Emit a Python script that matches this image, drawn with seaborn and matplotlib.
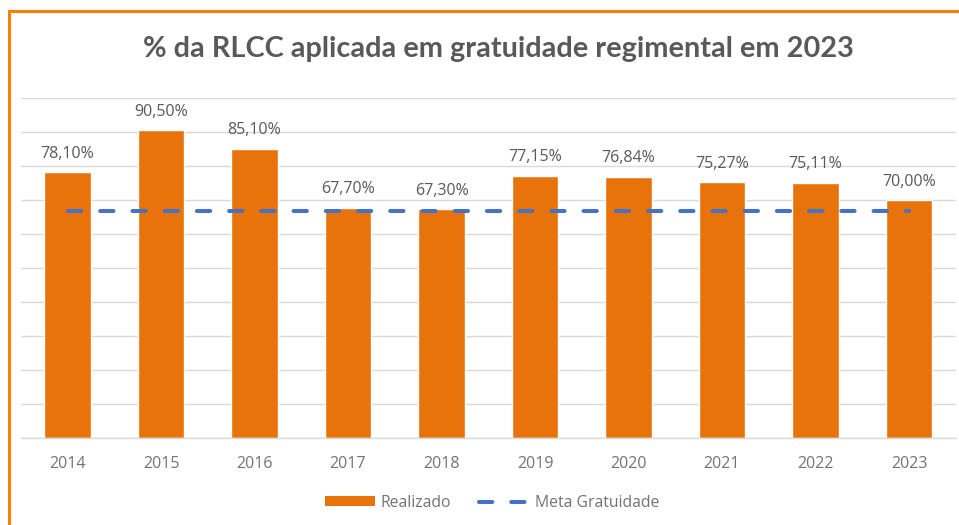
import matplotlib
matplotlib.use("Agg")
import matplotlib.pyplot as plt
import seaborn as sns
import pandas as pd
from matplotlib.patches import Rectangle, Patch
from matplotlib.lines import Line2D

years = ["2014", "2015", "2016", "2017", "2018", "2019", "2020", "2021", "2022", "2023"]
realizado = [78.10, 90.50, 85.10, 67.70, 67.30, 77.15, 76.84, 75.27, 75.11, 70.00]
meta = [66.67] * len(years)
title = "% da RLCC aplicada em gratuidade regimental em 2023"

df = pd.DataFrame({"ano": years, "realizado": realizado, "meta": meta})

sns.set_theme(style="white")
plt.rcParams["font.family"] = ["Open Sans", "DejaVu Sans"]

W, H = 959, 525
fig = plt.figure(figsize=(W / 100, H / 100), dpi=100)
ax = fig.add_axes([20.75 / W, (H - 438) / H, (955.75 - 20.75) / W, (438 - 98) / H])

bar_color = "#E8730A"
line_color = "#4472C4"
text_color = "#595959"
tick_color = "#737373"

sns.barplot(data=df, x="ano", y="realizado", color=bar_color, width=0.5,
            saturation=1, ax=ax, zorder=2)
sns.lineplot(data=df, x="ano", y="meta", color=line_color, linewidth=2.9,
             ax=ax, zorder=3)
ln = ax.lines[-1]
ln.set_linestyle((0, (3.3, 4.7)))
ln.set_dash_capstyle("round")

labels = [f"{v:.2f}".replace(".", ",") + "%" for v in realizado]
ax.bar_label(ax.containers[0], labels=labels, padding=7.5, fontsize=11.5,
             color=text_color)

ax.set_ylim(0, 100)
ax.set_xlim(-0.5, len(years) - 0.5)
ax.set_yticks(range(0, 101, 10))
ax.set_yticklabels([])
ax.tick_params(axis="y", length=0)
ax.tick_params(axis="x", length=0, labelsize=11.5, labelcolor=tick_color, pad=13)
ax.yaxis.grid(True, color="#D9D9D9", linewidth=1)
ax.set_axisbelow(True)
for s in ["top", "right", "left"]:
    ax.spines[s].set_visible(False)
ax.spines["bottom"].set_color("#D9D9D9")
ax.spines["bottom"].set_linewidth(1)
ax.set_xlabel("")
ax.set_ylabel("")

fig.text(498 / W, 1 - 49 / H, title, ha="center", va="center", fontsize=20.8,
         fontweight="bold", color=text_color, family=["Lato", "DejaVu Sans"])

handles = [Patch(facecolor=bar_color, edgecolor="none"),
           Line2D([0], [0], color=line_color, linewidth=2.9,
                  linestyle=(0, (3.3, 4.7)), dash_capstyle="round")]
fig.legend(handles, ["Realizado", "Meta Gratuidade"], loc="center",
           bbox_to_anchor=(492 / W, 1 - 503 / H), ncol=2, frameon=False,
           fontsize=11.3, labelcolor=tick_color, handlelength=3.2,
           handleheight=0.6, columnspacing=1.8, handletextpad=0.35)

fig.add_artist(Rectangle((9 / W, -0.1), 1.2, (H - 11) / H + 0.1,
                         transform=fig.transFigure, fill=False,
                         edgecolor="#FF7F00", linewidth=2.2))

fig.savefig("out.png", dpi=100)
